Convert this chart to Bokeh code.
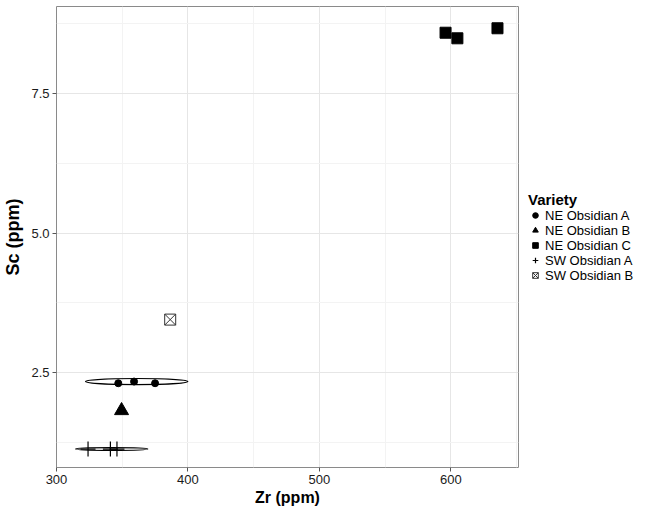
from bokeh.plotting import figure
from bokeh.models import Range1d, FixedTicker, Legend, LegendItem, PrintfTickFormatter
from bokeh.embed import file_html
from bokeh.resources import INLINE

# --- data ---
ne_a_zr = [347, 359, 375]
ne_a_sc = [2.31, 2.34, 2.31]
ne_b_zr = [349.5]
ne_b_sc = [1.82]
ne_c_zr = [596, 605, 635.5]
ne_c_sc = [8.59, 8.49, 8.67]
sw_a_zr = [324, 341, 346]
sw_a_sc = [1.13, 1.13, 1.13]
sw_b_zr = [386.5]
sw_b_sc = [3.45]

# confidence ellipses (centre x, centre y, width, height)
ell_x = [361, 342]
ell_y = [2.34, 1.13]
ell_w = [78, 55]
ell_h = [0.11, 0.05]

x_ticks = [300, 400, 500, 600]
x_minor = [350, 450, 550, 650]
y_ticks = [2.5, 5.0, 7.5]
y_minor = [1.25, 3.75, 6.25, 8.75]

FONT = "Liberation Sans"

p = figure(frame_width=462, frame_height=461, min_border_left=50, min_border_right=0,
           min_border_top=6, min_border_bottom=38,
           x_range=Range1d(300, 651.5), y_range=Range1d(0.8, 9.06),
           output_backend="svg", toolbar_location=None)

p.background_fill_color = "white"
p.border_fill_color = "white"
p.outline_line_color = "#8a8a8a"
p.outline_line_width = 1

for ax, tk, mn in ((p.xaxis[0], x_ticks, x_minor), (p.yaxis[0], y_ticks, y_minor)):
    ax.ticker = FixedTicker(ticks=tk, minor_ticks=mn)
    ax.axis_line_color = None
    ax.major_tick_line_color = "#555555"
    ax.major_tick_out = 4
    ax.major_tick_in = 0
    ax.minor_tick_line_color = None
    ax.major_label_text_font = FONT
    ax.major_label_text_font_size = "13px"
    ax.major_label_text_color = "#1a1a1a"
    ax.major_label_standoff = 3
    ax.axis_label_text_font = FONT
    ax.axis_label_text_font_style = "bold"
    ax.axis_label_text_color = "black"

p.yaxis.formatter = PrintfTickFormatter(format="%.1f")
p.xaxis.axis_label = "Zr (ppm)"
p.yaxis.axis_label = "Sc (ppm)"
p.xaxis.axis_label_text_font_size = "16px"
p.yaxis.axis_label_text_font_size = "18px"
p.xaxis.axis_label_standoff = 2
p.yaxis.axis_label_standoff = 5

for g in (p.xgrid[0], p.ygrid[0]):
    g.grid_line_color = "#e6e6e6"
    g.grid_line_width = 1
    g.minor_grid_line_color = "#f3f3f3"
    g.minor_grid_line_width = 1

p.ellipse(x=ell_x, y=ell_y, width=ell_w, height=ell_h,
          fill_color=None, line_color="black", line_width=1.2)

r1 = p.scatter(ne_a_zr, ne_a_sc, marker="circle", size=7, color="black")
r2 = p.scatter(ne_b_zr, ne_b_sc, marker="triangle", size=14, color="black")
r3 = p.scatter(ne_c_zr, ne_c_sc, marker="square", size=11, color="black")
r4 = p.scatter(sw_a_zr, sw_a_sc, marker="cross", size=15, line_color="black", line_width=1.2)
r5 = p.scatter(sw_b_zr, sw_b_sc, marker="square_x", size=11, fill_color=None,
               line_color="#333333", line_width=1)

names = ["NE Obsidian A", "NE Obsidian B", "NE Obsidian C", "SW Obsidian A", "SW Obsidian B"]
legend = Legend(items=[LegendItem(label=n, renderers=[r]) for n, r in zip(names, [r1, r2, r3, r4, r5])],
                location="center_left")
legend.title = "Variety"
legend.title_text_font = FONT
legend.title_text_font_style = "bold"
legend.title_text_font_size = "15px"
legend.title_text_color = "black"
legend.title_standoff = 0
legend.label_text_font = FONT
legend.label_text_font_size = "13px"
legend.label_text_color = "black"
legend.label_height = 10
legend.glyph_height = 14
legend.glyph_width = 14
legend.label_standoff = 3
legend.spacing = 0
legend.padding = 2
legend.margin = 10
legend.border_line_color = None
legend.background_fill_alpha = 0
p.add_layout(legend, "right")

open("out.html", "w").write(file_html(p, INLINE))
